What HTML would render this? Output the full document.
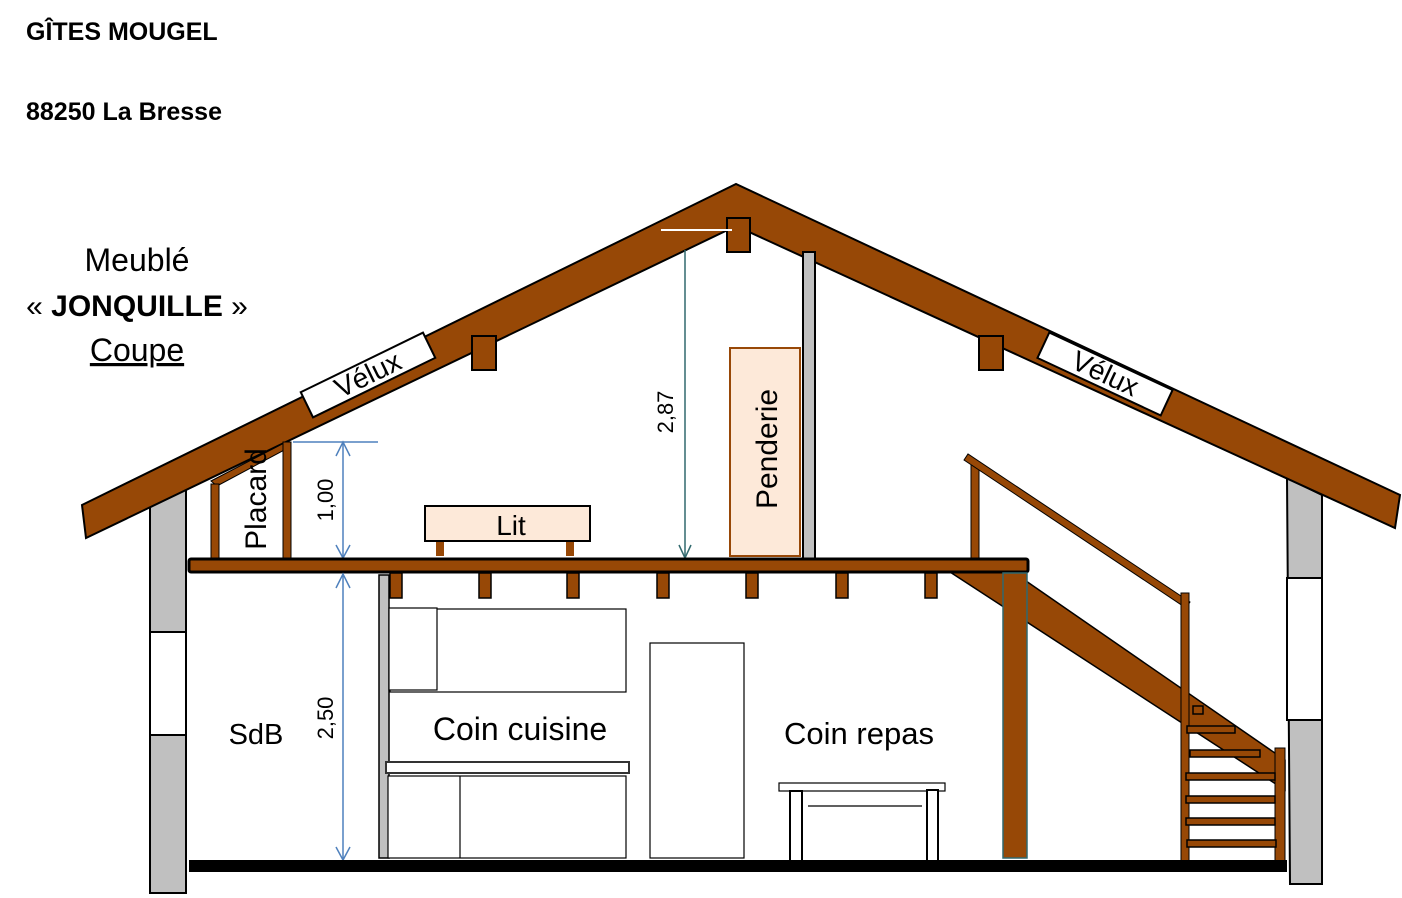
<!DOCTYPE html>
<html><head><meta charset="utf-8"><style>
html,body{margin:0;padding:0;background:#fff;}
svg{display:block;font-family:"Liberation Sans",sans-serif;}
</style></head><body>
<svg width="1402" height="898" viewBox="0 0 1402 898" xmlns="http://www.w3.org/2000/svg">
<rect width="1402" height="898" fill="#fff"/>
<text x="26" y="40" font-size="25" font-weight="bold">GÎTES MOUGEL</text>
<text x="26" y="120" font-size="25" font-weight="bold">88250 La Bresse</text>
<text x="137" y="271" font-size="32" text-anchor="middle">Meublé</text>
<text x="137" y="316" font-size="30" text-anchor="middle">« <tspan font-weight="bold">JONQUILLE</tspan> »</text>
<text x="137" y="361" font-size="32" text-anchor="middle" text-decoration="underline">Coupe</text>

<!-- walls -->
<polygon points="150,507 186,489 186,893 150,893" fill="#c0c0c0" stroke="#000" stroke-width="2"/>
<rect x="150" y="632" width="36" height="103" fill="#fff" stroke="#000" stroke-width="2"/>
<polygon points="1287,478 1322,495 1322,884 1290,884" fill="#c0c0c0" stroke="#000" stroke-width="2"/>
<rect x="1287" y="578" width="35" height="142" fill="#fff" stroke="#000" stroke-width="2"/>

<!-- roof -->
<polygon points="82,505 736,184 1400,495 1395,528 736,226 86,538" fill="#974806" stroke="#000" stroke-width="2"/>
<g transform="translate(368,375) rotate(-26)"><rect x="-68" y="-14" width="136" height="28" fill="#fff" stroke="#000" stroke-width="2"/><text x="0" y="9" font-size="28" text-anchor="middle">Vélux</text></g>
<g transform="translate(1105,374) rotate(25)"><rect x="-68" y="-14" width="136" height="28" fill="#fff" stroke="#000" stroke-width="2"/><text x="0" y="9" font-size="28" text-anchor="middle">Vélux</text></g>
<rect x="472" y="336" width="24" height="34" fill="#974806" stroke="#000" stroke-width="2"/>
<rect x="979" y="336" width="24" height="34" fill="#974806" stroke="#000" stroke-width="2"/>
<rect x="727" y="218" width="23" height="34" fill="#974806" stroke="#000" stroke-width="2"/>
<line x1="661" y1="230" x2="732" y2="230" stroke="#fff" stroke-width="2"/>

<!-- mezzanine partition -->
<rect x="803" y="252" width="12" height="307" fill="#c0c0c0" stroke="#000" stroke-width="2"/>
<!-- penderie -->
<rect x="730" y="348" width="70" height="208" fill="#fde9d9" stroke="#984807" stroke-width="2"/>
<text transform="translate(777,449) rotate(-90)" font-size="30" text-anchor="middle">Penderie</text>
<!-- dim 2,87 -->
<line x1="685" y1="250" x2="685" y2="558" stroke="#31696e" stroke-width="1.5"/>
<polyline points="679,545 685,558 691,545" fill="none" stroke="#31696e" stroke-width="1.5"/>
<text transform="translate(673,412) rotate(-90)" font-size="22" text-anchor="middle">2,87</text>

<!-- lit -->
<rect x="425" y="506" width="165" height="35" fill="#fde9d9" stroke="#000" stroke-width="2"/>
<text x="511" y="535" font-size="28" text-anchor="middle">Lit</text>
<rect x="436" y="542" width="8" height="14" fill="#974806"/>
<rect x="566" y="542" width="8" height="14" fill="#974806"/>

<!-- placard -->
<polygon points="211,481 286,442 290,447 217,486" fill="#974806" stroke="#000" stroke-width="1"/>
<rect x="211" y="484" width="8" height="86" fill="#974806" stroke="#000" stroke-width="1"/>
<rect x="283" y="442" width="8" height="117" fill="#974806" stroke="#000" stroke-width="1"/>
<text transform="translate(266,499) rotate(-90)" font-size="30" text-anchor="middle">Placard</text>
<!-- dim 1,00 -->
<line x1="293" y1="442" x2="378" y2="442" stroke="#4f81bd" stroke-width="1.5"/>
<line x1="343" y1="442" x2="343" y2="558" stroke="#4f81bd" stroke-width="1.5"/>
<polyline points="336,456 343,442 350,456" fill="none" stroke="#4f81bd" stroke-width="1.5"/>
<polyline points="336,545 343,558 350,545" fill="none" stroke="#4f81bd" stroke-width="1.5"/>
<text transform="translate(333,500) rotate(-90)" font-size="22" text-anchor="middle">1,00</text>

<!-- stair stringer -->
<polygon points="950,572 1013,572 1285,760 1285,790" fill="#974806" stroke="#000" stroke-width="1.5"/>
<!-- floor -->
<rect x="189" y="559" width="839" height="13" rx="2" fill="#974806" stroke="#000" stroke-width="3"/>
<g fill="#974806" stroke="#000" stroke-width="1.5">
<rect x="390" y="573" width="12" height="25"/><rect x="479" y="573" width="12" height="25"/>
<rect x="567" y="573" width="12" height="25"/><rect x="657" y="573" width="12" height="25"/>
<rect x="746" y="573" width="12" height="25"/><rect x="836" y="573" width="12" height="25"/>
<rect x="925" y="573" width="12" height="25"/>
</g>
<rect x="1003" y="573" width="24" height="285" fill="#974806" stroke="#31696e" stroke-width="1.5"/>
<!-- railing -->
<rect x="971" y="465" width="8" height="93" fill="#974806" stroke="#000" stroke-width="1"/>
<polygon points="964,460 968,454 1190,602 1186,608" fill="#974806" stroke="#000" stroke-width="1"/>
<rect x="1181" y="593" width="8" height="270" fill="#974806" stroke="#000" stroke-width="1"/>
<rect x="1275" y="748" width="10" height="114" fill="#974806" stroke="#000" stroke-width="1"/>
<g fill="#974806" stroke="#000" stroke-width="1.5">
<rect x="1193" y="706" width="10" height="8"/>
<rect x="1187" y="726" width="48" height="7"/>
<rect x="1190" y="750" width="70" height="7"/>
<rect x="1186" y="773" width="89" height="7"/>
<rect x="1186" y="796" width="89" height="7"/>
<rect x="1186" y="818" width="89" height="7"/>
<rect x="1187" y="840" width="89" height="7"/>
</g>

<!-- ground floor -->
<rect x="379" y="575" width="10" height="283" fill="#c0c0c0" stroke="#000" stroke-width="1.5"/>
<g fill="#fff" stroke="#000" stroke-width="1.2">
<rect x="390" y="609" width="236" height="83"/>
<rect x="389" y="608" width="48" height="82"/>
<rect x="386" y="762" width="243" height="11" stroke-width="2" stroke="#333"/>
<rect x="388" y="776" width="238" height="82"/>
<line x1="460" y1="776" x2="460" y2="858"/>
<rect x="650" y="643" width="94" height="215"/>
<rect x="779" y="783" width="166" height="8"/>
<rect x="790" y="791" width="12" height="70" stroke-width="2"/>
<rect x="927" y="790" width="11" height="71" stroke-width="2"/>
<line x1="808" y1="806" x2="922" y2="806"/>
</g>
<text x="520" y="740" font-size="32" text-anchor="middle">Coin cuisine</text>
<text x="859" y="744" font-size="31" text-anchor="middle">Coin repas</text>
<text x="256" y="744" font-size="29" text-anchor="middle">SdB</text>
<!-- dim 2,50 -->
<line x1="343" y1="574" x2="343" y2="860" stroke="#4f81bd" stroke-width="1.5"/>
<polyline points="336,588 343,574 350,588" fill="none" stroke="#4f81bd" stroke-width="1.5"/>
<polyline points="336,847 343,860 350,847" fill="none" stroke="#4f81bd" stroke-width="1.5"/>
<text transform="translate(333,718) rotate(-90)" font-size="22" text-anchor="middle">2,50</text>

<rect x="189" y="860" width="1098" height="12" fill="#000"/>
</svg>
</body></html>
